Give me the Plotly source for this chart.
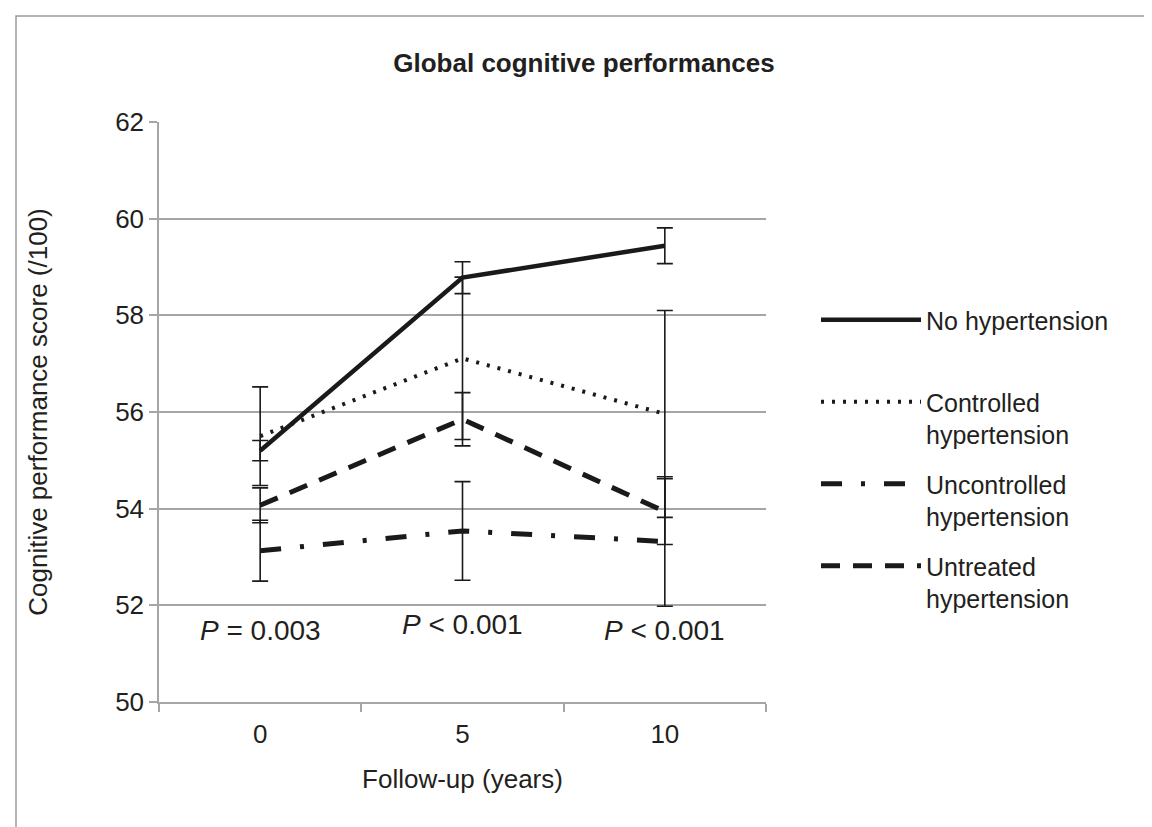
import plotly.graph_objects as go

years = ["0", "5", "10"]
series_names = ["No hypertension<br>\u00a0", "Controlled<br>hypertension",
                "Uncontrolled<br>hypertension", "Untreated<br>hypertension"]
no_ht = [55.2, 58.78, 59.44]
no_ht_err = [0.21, 0.33, 0.37]
controlled = [55.5, 57.11, 55.96]
controlled_err = [1.02, 1.68, 2.14]
uncontrolled = [53.13, 53.54, 53.32]
uncontrolled_err = [0.63, 1.02, 1.34]
untreated = [54.07, 55.85, 53.94]
untreated_err = [0.36, 0.55, 0.68]
p_labels = ["<i>P</i> = 0.003", "<i>P</i> &lt; 0.001", "<i>P</i> &lt; 0.001"]
p_y = [51.48, 51.6, 51.48]

FONT = "Liberation Sans, Arial, sans-serif"
TXT = "#231f20"
GRID = "#a6a6a6"
FS = 26

styles = [
    dict(width=4.5, dash="solid"),
    dict(width=4, dash="3px,8px"),
    dict(width=5, dash="21px,19px,4px,19px"),
    dict(width=5, dash="19px,13px"),
]
values = [no_ht, controlled, uncontrolled, untreated]
errors = [no_ht_err, controlled_err, uncontrolled_err, untreated_err]

fig = go.Figure()
for i, (name, vals, errs, st) in enumerate(zip(series_names, values, errors, styles)):
    fig.add_trace(go.Scatter(
        x=years, y=vals, mode="lines", name=name, legendgroup=f"g{i}",
        line=dict(color="#1a1a1a", width=st["width"], dash=st["dash"]),
        error_y=dict(type="data", array=errs, arrayminus=errs, visible=True,
                     color="#1a1a1a", thickness=1.6, width=8),
    ))

for xl, lab, py in zip(years, p_labels, p_y):
    fig.add_annotation(x=years.index(xl), y=py, text=lab, showarrow=False,
                       font=dict(family=FONT, size=28, color=TXT))

W, H = 1152, 827
L, R, T, B = 151, 394, 114, 133
pw, ph = W - L - R, H - T - B
def px(xp):
    return (xp - L) / pw
def py_(yp):
    return 1 - (yp - T) / ph

fig.add_shape(type="rect", xref="paper", yref="paper",
              x0=px(8), x1=px(1149), y0=py_(840), y1=py_(8),
              line=dict(color="#9a9a9a", width=1.5), fillcolor="rgba(0,0,0,0)")

fig.update_layout(
    width=W, height=H,
    margin=dict(l=L, r=R, t=T, b=B, autoexpand=False),
    paper_bgcolor="white", plot_bgcolor="white",
    font=dict(family=FONT, size=FS, color=TXT),
    title=dict(text="<b>Global cognitive performances</b>", x=0.5, xanchor="center",
               y=1 - 55 / H, yanchor="middle",
               font=dict(family=FONT, size=FS, color=TXT)),
    showlegend=True,
    legend=dict(x=px(808), y=py_(289), xanchor="left", yanchor="top",
                font=dict(family=FONT, size=25, color=TXT),
                itemwidth=100, tracegroupgap=14, valign="top",
                bgcolor="rgba(0,0,0,0)", traceorder="grouped"),
    xaxis=dict(type="category", tickson="boundaries", ticks="outside", ticklen=8,
               tickcolor=GRID, tickwidth=1.5, showline=True, linecolor=GRID, linewidth=1.5,
               showgrid=False, tickfont=dict(size=FS, color=TXT), ticklabelstandoff=8,
               title=dict(text="Follow-up (years)", font=dict(size=FS, color=TXT), standoff=22),
               range=[-0.5, 2.5]),
    yaxis=dict(range=[50, 62], dtick=2, tick0=50, ticks="outside", ticklen=8,
               tickcolor=GRID, tickwidth=1.5, showline=True, linecolor=GRID, linewidth=1.5,
               showgrid=True, gridcolor=GRID, gridwidth=1.5, zeroline=False,
               tickfont=dict(size=FS, color=TXT),
               title=dict(text="Cognitive performance score (/100)", font=dict(size=FS, color=TXT),
                          standoff=60)),
)

fig.write_html("out.html")
